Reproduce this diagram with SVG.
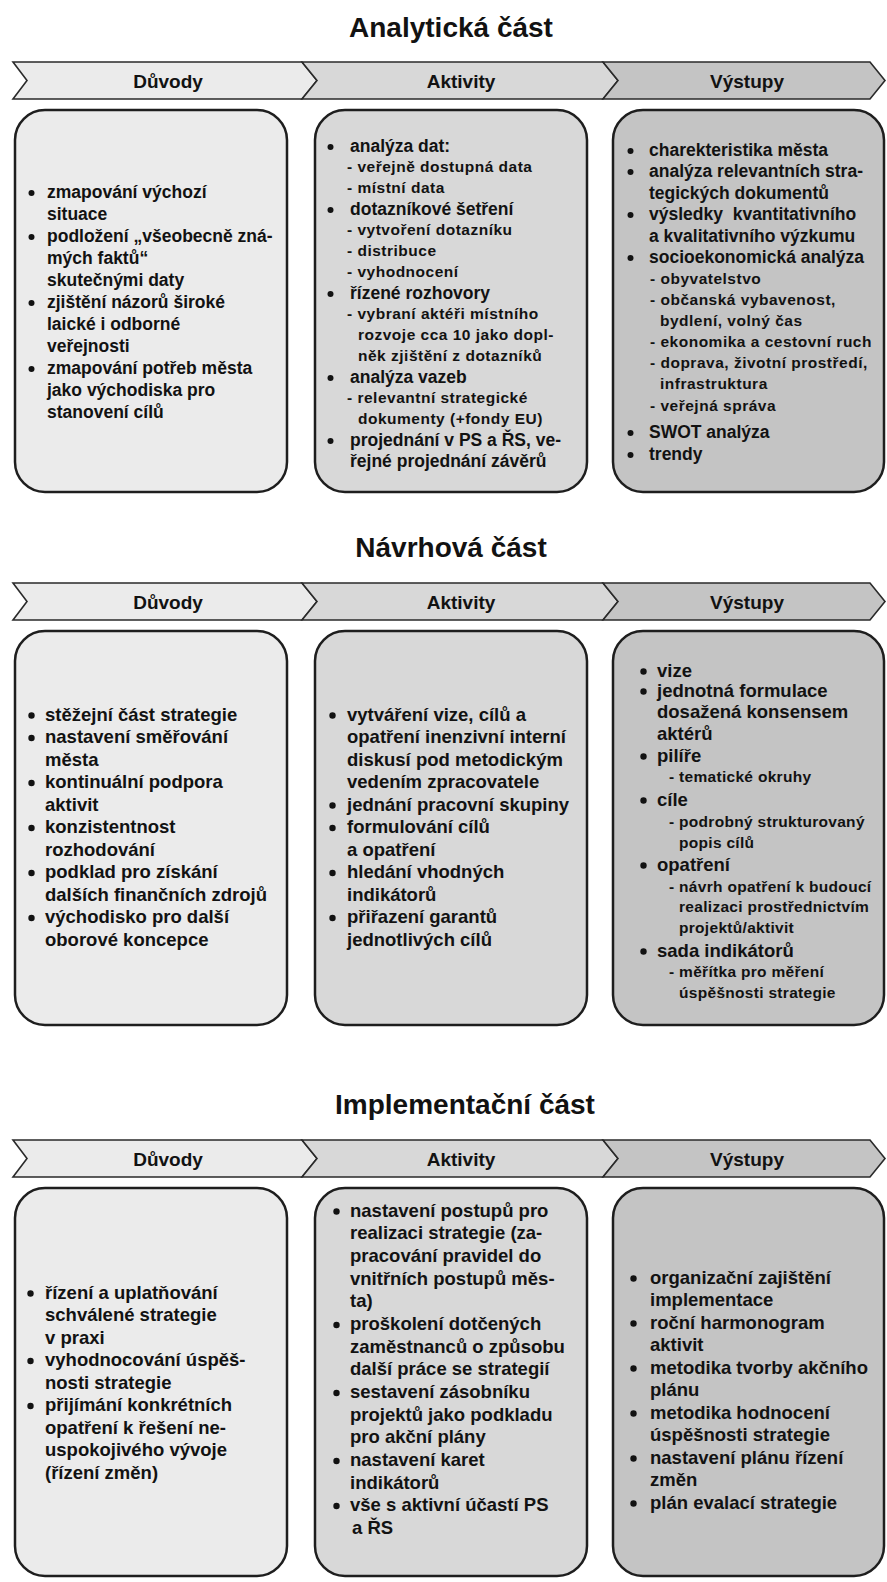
<svg xmlns="http://www.w3.org/2000/svg" width="887" height="1582" viewBox="0 0 887 1582">
<style>
text{font-family:"Liberation Sans",Arial,sans-serif;font-weight:bold;fill:#121212}
.h{font-size:28px;text-anchor:middle}
.hd{font-size:19px;text-anchor:middle}
.m1{font-size:17.5px}
.s1{font-size:15.5px;letter-spacing:0.5px}
.m2{font-size:18.5px}
.s2{font-size:15.5px;letter-spacing:0.3px}
.dot{fill:#121212}
.box{stroke:#1e1e1e;stroke-width:2.5}
.c1{fill:#ebebeb}.c2{fill:#d8d8d8}.c3{fill:#c4c4c4}
.chev{stroke:#2a2a2a;stroke-width:1.6}
</style>
<rect width="887" height="1582" fill="#ffffff"/>

<!-- ===== Section 1 ===== -->
<g id="title-analyticka"><text class="h" x="451" y="37">Analytická část</text></g>
<g id="bands">
<g id="band1">
<path class="chev c1" d="M13,62 L302,62 L317,80.5 L302,99 L13,99 L27,80.5 Z"/>
<path class="chev c2" d="M302,62 L603,62 L618,80.5 L603,99 L302,99 L317,80.5 Z"/>
<path class="chev c3" d="M603,62 L870,62 L885,80.5 L870,99 L603,99 L618,80.5 Z"/>
<text class="hd" x="168" y="87.5">Důvody</text>
<text class="hd" x="461" y="87.5">Aktivity</text>
<text class="hd" x="747" y="87.5">Výstupy</text>
</g>
<g id="band2">
<path class="chev c1" d="M13,583 L302,583 L317,601.5 L302,620 L13,620 L27,601.5 Z"/>
<path class="chev c2" d="M302,583 L603,583 L618,601.5 L603,620 L302,620 L317,601.5 Z"/>
<path class="chev c3" d="M603,583 L870,583 L885,601.5 L870,620 L603,620 L618,601.5 Z"/>
<text class="hd" x="168" y="608.5">Důvody</text>
<text class="hd" x="461" y="608.5">Aktivity</text>
<text class="hd" x="747" y="608.5">Výstupy</text>
</g>
<g id="band3">
<path class="chev c1" d="M13,1140 L302,1140 L317,1158.5 L302,1177 L13,1177 L27,1158.5 Z"/>
<path class="chev c2" d="M302,1140 L603,1140 L618,1158.5 L603,1177 L302,1177 L317,1158.5 Z"/>
<path class="chev c3" d="M603,1140 L870,1140 L885,1158.5 L870,1177 L603,1177 L618,1158.5 Z"/>
<text class="hd" x="168" y="1165.5">Důvody</text>
<text class="hd" x="461" y="1165.5">Aktivity</text>
<text class="hd" x="747" y="1165.5">Výstupy</text>
</g>
</g>

<g id="a-duvody">
<rect class="box c1" x="15" y="110" width="272" height="382" rx="30"/>
<circle class="dot" cx="31.5" cy="193" r="3"/><text class="m1" x="47" y="198">zmapování výchozí</text>
<text class="m1" x="47" y="220">situace</text>
<circle class="dot" cx="31.5" cy="237" r="3"/><text class="m1" x="47" y="242">podložení „všeobecně zná-</text>
<text class="m1" x="47" y="264">mých faktů“</text>
<text class="m1" x="47" y="286">skutečnými daty</text>
<circle class="dot" cx="31.5" cy="303" r="3"/><text class="m1" x="47" y="308">zjištění názorů široké</text>
<text class="m1" x="47" y="330">laické i odborné</text>
<text class="m1" x="47" y="352">veřejnosti</text>
<circle class="dot" cx="31.5" cy="369" r="3"/><text class="m1" x="47" y="374">zmapování potřeb města</text>
<text class="m1" x="47" y="396">jako východiska pro</text>
<text class="m1" x="47" y="418">stanovení cílů</text>
</g>

<g id="a-aktivity">
<rect class="box c2" x="315" y="110" width="272" height="382" rx="30"/>
<circle class="dot" cx="330.5" cy="147" r="3"/><text class="m1" x="350" y="152">analýza dat:</text>
<text class="s1" x="347" y="172">- veřejně dostupná data</text>
<text class="s1" x="347" y="193">- místní data</text>
<circle class="dot" cx="330.5" cy="210" r="3"/><text class="m1" x="350" y="215">dotazníkové šetření</text>
<text class="s1" x="347" y="235">- vytvoření dotazníku</text>
<text class="s1" x="347" y="256">- distribuce</text>
<text class="s1" x="347" y="277">- vyhodnocení</text>
<circle class="dot" cx="330.5" cy="294" r="3"/><text class="m1" x="350" y="299">řízené rozhovory</text>
<text class="s1" x="347" y="319">- vybraní aktéři místního</text>
<text class="s1" x="358" y="340">rozvoje cca 10 jako dopl-</text>
<text class="s1" x="358" y="361">něk zjištění z dotazníků</text>
<circle class="dot" cx="330.5" cy="378" r="3"/><text class="m1" x="350" y="383">analýza vazeb</text>
<text class="s1" x="347" y="403">- relevantní strategické</text>
<text class="s1" x="358" y="424">dokumenty (+fondy EU)</text>
<circle class="dot" cx="330.5" cy="441" r="3"/><text class="m1" x="350" y="446">projednání v PS a ŘS, ve-</text>
<text class="m1" x="350" y="467">řejné projednání závěrů</text>
</g>

<g id="a-vystupy">
<rect class="box c3" x="613" y="110" width="271" height="382" rx="30"/>
<circle class="dot" cx="630.5" cy="151" r="3"/><text class="m1" x="649" y="156">charekteristika města</text>
<circle class="dot" cx="630.5" cy="172" r="3"/><text class="m1" x="649" y="177">analýza relevantních stra-</text>
<text class="m1" x="649" y="199">tegických dokumentů</text>
<circle class="dot" cx="630.5" cy="215" r="3"/><text class="m1" x="649" y="220" xml:space="preserve">výsledky  kvantitativního</text>
<text class="m1" x="649" y="242">a kvalitativního výzkumu</text>
<circle class="dot" cx="630.5" cy="258" r="3"/><text class="m1" x="649" y="263">socioekonomická analýza</text>
<text class="s1" x="650" y="284">- obyvatelstvo</text>
<text class="s1" x="650" y="305">- občanská vybavenost,</text>
<text class="s1" x="660" y="326">bydlení, volný čas</text>
<text class="s1" x="650" y="347">- ekonomika a cestovní ruch</text>
<text class="s1" x="650" y="368">- doprava, životní prostředí,</text>
<text class="s1" x="660" y="389">infrastruktura</text>
<text class="s1" x="650" y="411">- veřejná správa</text>
<circle class="dot" cx="630.5" cy="433" r="3"/><text class="m1" x="649" y="438">SWOT analýza</text>
<circle class="dot" cx="630.5" cy="455" r="3"/><text class="m1" x="649" y="460">trendy</text>
</g>

<!-- ===== Section 2 ===== -->
<g id="title-navrhova"><text class="h" x="451" y="557">Návrhová část</text></g>

<g id="n-duvody">
<rect class="box c1" x="15" y="631" width="272" height="394" rx="30"/>
<circle class="dot" cx="31.5" cy="715.5" r="3.2"/><text class="m2" x="45" y="720.5">stěžejní část strategie</text>
<circle class="dot" cx="31.5" cy="738" r="3.2"/><text class="m2" x="45" y="743">nastavení směřování</text>
<text class="m2" x="45" y="765.5">města</text>
<circle class="dot" cx="31.5" cy="783" r="3.2"/><text class="m2" x="45" y="788">kontinuální podpora</text>
<text class="m2" x="45" y="810.5">aktivit</text>
<circle class="dot" cx="31.5" cy="828" r="3.2"/><text class="m2" x="45" y="833">konzistentnost</text>
<text class="m2" x="45" y="855.5">rozhodování</text>
<circle class="dot" cx="31.5" cy="873" r="3.2"/><text class="m2" x="45" y="878">podklad pro získání</text>
<text class="m2" x="45" y="900.5">dalších finančních zdrojů</text>
<circle class="dot" cx="31.5" cy="918" r="3.2"/><text class="m2" x="45" y="923">východisko pro další</text>
<text class="m2" x="45" y="945.5">oborové koncepce</text>
</g>

<g id="n-aktivity">
<rect class="box c2" x="315" y="631" width="272" height="394" rx="30"/>
<circle class="dot" cx="332.5" cy="715.5" r="3.2"/><text class="m2" x="347" y="720.5">vytváření vize, cílů a</text>
<text class="m2" x="347" y="743">opatření inenzivní interní</text>
<text class="m2" x="347" y="765.5">diskusí pod metodickým</text>
<text class="m2" x="347" y="788">vedením zpracovatele</text>
<circle class="dot" cx="332.5" cy="805.5" r="3.2"/><text class="m2" x="347" y="810.5">jednání pracovní skupiny</text>
<circle class="dot" cx="332.5" cy="828" r="3.2"/><text class="m2" x="347" y="833">formulování cílů</text>
<text class="m2" x="347" y="855.5">a opatření</text>
<circle class="dot" cx="332.5" cy="873" r="3.2"/><text class="m2" x="347" y="878">hledání vhodných</text>
<text class="m2" x="347" y="900.5">indikátorů</text>
<circle class="dot" cx="332.5" cy="918" r="3.2"/><text class="m2" x="347" y="923">přiřazení garantů</text>
<text class="m2" x="347" y="945.5">jednotlivých cílů</text>
</g>

<g id="n-vystupy">
<rect class="box c3" x="613" y="631" width="271" height="394" rx="30"/>
<circle class="dot" cx="643.5" cy="671.5" r="3.2"/><text class="m2" x="657" y="676.5">vize</text>
<circle class="dot" cx="643.5" cy="691.5" r="3.2"/><text class="m2" x="657" y="696.5">jednotná formulace</text>
<text class="m2" x="657" y="717.5">dosažená konsensem</text>
<text class="m2" x="657" y="739.5">aktérů</text>
<circle class="dot" cx="643.5" cy="756.5" r="3.2"/><text class="m2" x="657" y="761.5">pilíře</text>
<text class="s2" x="669" y="782">- tematické okruhy</text>
<circle class="dot" cx="643.5" cy="800.5" r="3.2"/><text class="m2" x="657" y="805.5">cíle</text>
<text class="s2" x="669" y="827">- podrobný strukturovaný</text>
<text class="s2" x="679" y="848">popis cílů</text>
<circle class="dot" cx="643.5" cy="865.5" r="3.2"/><text class="m2" x="657" y="870.5">opatření</text>
<text class="s2" x="669" y="892">- návrh opatření k budoucí</text>
<text class="s2" x="679" y="912">realizaci prostřednictvím</text>
<text class="s2" x="679" y="933">projektů/aktivit</text>
<circle class="dot" cx="643.5" cy="951.5" r="3.2"/><text class="m2" x="657" y="956.5">sada indikátorů</text>
<text class="s2" x="669" y="977">- měřítka pro měření</text>
<text class="s2" x="679" y="998">úspěšnosti strategie</text>
</g>

<!-- ===== Section 3 ===== -->
<g id="title-implementacni"><text class="h" x="465" y="1114">Implementační část</text></g>

<g id="i-duvody">
<rect class="box c1" x="15" y="1188" width="272" height="388" rx="30"/>
<circle class="dot" cx="30.5" cy="1293.5" r="3.2"/><text class="m2" x="45" y="1298.5">řízení a uplatňování</text>
<text class="m2" x="45" y="1321">schválené strategie</text>
<text class="m2" x="45" y="1343.5">v praxi</text>
<circle class="dot" cx="30.5" cy="1361" r="3.2"/><text class="m2" x="45" y="1366">vyhodnocování úspěš-</text>
<text class="m2" x="45" y="1388.5">nosti strategie</text>
<circle class="dot" cx="30.5" cy="1406" r="3.2"/><text class="m2" x="45" y="1411">přijímání konkrétních</text>
<text class="m2" x="45" y="1433.5">opatření k řešení ne-</text>
<text class="m2" x="45" y="1456">uspokojivého vývoje</text>
<text class="m2" x="45" y="1478.5">(řízení změn)</text>
</g>

<g id="i-aktivity">
<rect class="box c2" x="315" y="1188" width="272" height="388" rx="30"/>
<circle class="dot" cx="336.5" cy="1211.5" r="3.2"/><text class="m2" x="350" y="1216.5">nastavení postupů pro</text>
<text class="m2" x="350" y="1239">realizaci strategie (za-</text>
<text class="m2" x="350" y="1262">pracování pravidel do</text>
<text class="m2" x="350" y="1284.5">vnitřních postupů měs-</text>
<text class="m2" x="350" y="1307">ta)</text>
<circle class="dot" cx="336.5" cy="1325" r="3.2"/><text class="m2" x="350" y="1330">proškolení dotčených</text>
<text class="m2" x="350" y="1352.5">zaměstnanců o způsobu</text>
<text class="m2" x="350" y="1375">další práce se strategií</text>
<circle class="dot" cx="336.5" cy="1393" r="3.2"/><text class="m2" x="350" y="1398">sestavení zásobníku</text>
<text class="m2" x="350" y="1420.5">projektů jako podkladu</text>
<text class="m2" x="350" y="1443">pro akční plány</text>
<circle class="dot" cx="336.5" cy="1461" r="3.2"/><text class="m2" x="350" y="1466">nastavení karet</text>
<text class="m2" x="350" y="1488.5">indikátorů</text>
<circle class="dot" cx="336.5" cy="1506" r="3.2"/><text class="m2" x="350" y="1511">vše s aktivní účastí PS</text>
<text class="m2" x="352" y="1534">a ŘS</text>
</g>

<g id="i-vystupy">
<rect class="box c3" x="613" y="1188" width="271" height="388" rx="30"/>
<circle class="dot" cx="633.5" cy="1278.5" r="3.2"/><text class="m2" x="650" y="1283.5">organizační zajištění</text>
<text class="m2" x="650" y="1306">implementace</text>
<circle class="dot" cx="633.5" cy="1323.5" r="3.2"/><text class="m2" x="650" y="1328.5">roční harmonogram</text>
<text class="m2" x="650" y="1351">aktivit</text>
<circle class="dot" cx="633.5" cy="1368.5" r="3.2"/><text class="m2" x="650" y="1373.5">metodika tvorby akčního</text>
<text class="m2" x="650" y="1396">plánu</text>
<circle class="dot" cx="633.5" cy="1413.5" r="3.2"/><text class="m2" x="650" y="1418.5">metodika hodnocení</text>
<text class="m2" x="650" y="1441">úspěšnosti strategie</text>
<circle class="dot" cx="633.5" cy="1458.5" r="3.2"/><text class="m2" x="650" y="1463.5">nastavení plánu řízení</text>
<text class="m2" x="650" y="1486">změn</text>
<circle class="dot" cx="633.5" cy="1503.5" r="3.2"/><text class="m2" x="650" y="1508.5">plán evalací strategie</text>
</g>
</svg>
